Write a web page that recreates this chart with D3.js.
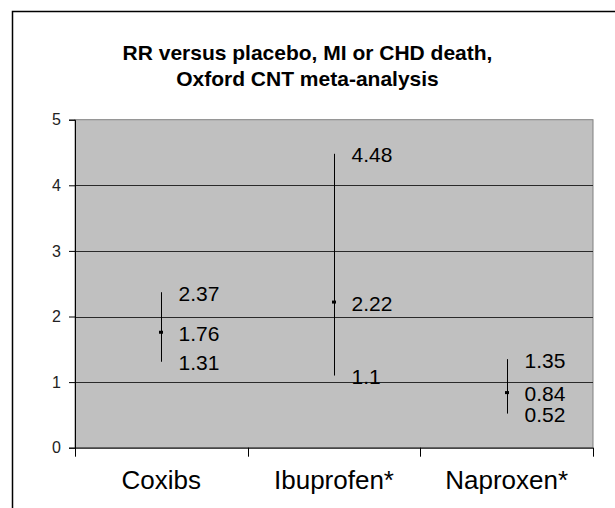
<!DOCTYPE html>
<html>
<head>
<meta charset="utf-8">
<script src="https://cdn.jsdelivr.net/npm/d3@7"></script>
<style>
  html, body { margin: 0; padding: 0; background: #fff; }
  svg { display: block; }
</style>
</head>
<body>
<svg id="chart" width="615" height="508"></svg>
<script>
// Relative risk versus placebo with 95% confidence limits
const categories = ["Coxibs", "Ibuprofen*", "Naproxen*"];
const rrPoint = [1.76, 2.22, 0.84];
const rrUpper = [2.37, 4.48, 1.35];
const rrLower = [1.31, 1.1, 0.52];
const pointLabels = ["1.76", "2.22", "0.84"];
const upperLabels = ["2.37", "4.48", "1.35"];
const lowerLabels = ["1.31", "1.1", "0.52"];
const yTicks = [0, 1, 2, 3, 4, 5];
const titleLines = ["RR versus placebo, MI or CHD death,", "Oxford CNT meta-analysis"];

const svg = d3.select("#chart");
const font = "Liberation Sans, Arial, Helvetica, sans-serif";

const plot = { left: 75, right: 593, top: 119.7, bottom: 447.7 };

const x = d3.scaleBand().domain(categories).range([plot.left, plot.right]).padding(0);
const y = d3.scaleLinear().domain([0, 5]).range([plot.bottom, plot.top]);

// chart frame (left and top edges)
svg.append("path")
  .attr("d", `M12.5,508 V11.5 H615`)
  .attr("fill", "none")
  .attr("stroke", "#000")
  .attr("stroke-width", 1.5);

// title
const title = svg.append("text")
  .attr("text-anchor", "middle")
  .attr("font-family", font)
  .attr("font-weight", "bold")
  .attr("font-size", 21)
  .attr("fill", "#000");
titleLines.forEach((t, i) => {
  title.append("tspan").attr("x", 307.5).attr("y", 60 + i * 26).text(t);
});

// plot area
svg.append("rect")
  .attr("x", plot.left).attr("y", plot.top)
  .attr("width", plot.right - plot.left).attr("height", plot.bottom - plot.top)
  .attr("fill", "#c0c0c0")
  .attr("stroke", "#808080")
  .attr("stroke-width", 1);

// horizontal gridlines
svg.append("g")
  .selectAll("line")
  .data(yTicks.filter(d => d > 0 && d < 5))
  .join("line")
  .attr("x1", plot.left).attr("x2", plot.right)
  .attr("y1", d => Math.round(y(d)) + 0.5).attr("y2", d => Math.round(y(d)) + 0.5)
  .attr("stroke", "#2a2a2a")
  .attr("stroke-width", 1);

// y axis
const yAxis = svg.append("g")
  .attr("transform", `translate(${plot.left},0)`)
  .call(d3.axisLeft(y).tickValues(yTicks).tickSize(6).tickPadding(8).tickFormat(d3.format("d")));
yAxis.select(".domain").attr("stroke", "#000");
yAxis.selectAll(".tick line").attr("stroke", "#000");
yAxis.selectAll("text")
  .attr("font-family", font)
  .attr("font-size", 16)
  .attr("fill", "#222");

// x axis: boundary ticks and centred category labels
const xAxis = svg.append("g");
xAxis.append("line")
  .attr("x1", plot.left).attr("x2", plot.right)
  .attr("y1", plot.bottom + 0.5).attr("y2", plot.bottom + 0.5)
  .attr("stroke", "#000");
const bounds = categories.map(c => x(c)).concat([x(categories[categories.length - 1]) + x.bandwidth()]);
xAxis.selectAll("line.tk")
  .data(bounds)
  .join("line")
  .attr("class", "tk")
  .attr("x1", d => Math.round(d) + 0.5).attr("x2", d => Math.round(d) + 0.5)
  .attr("y1", plot.bottom).attr("y2", plot.bottom + 9)
  .attr("stroke", "#000");
xAxis.selectAll("text")
  .data(categories)
  .join("text")
  .attr("x", d => x(d) + x.bandwidth() / 2)
  .attr("y", 489)
  .attr("text-anchor", "middle")
  .attr("font-family", font)
  .attr("font-size", 26)
  .attr("fill", "#000")
  .text(d => d);

// confidence interval bars and point estimates
const cx = i => Math.round(x(categories[i]) + x.bandwidth() / 2) + 0.5;
const marks = svg.append("g");
categories.forEach((c, i) => {
  marks.append("line")
    .attr("x1", cx(i)).attr("x2", cx(i))
    .attr("y1", y(rrUpper[i])).attr("y2", y(rrLower[i]))
    .attr("stroke", "#000").attr("stroke-width", 1);
  marks.append("rect")
    .attr("x", cx(i) - 2.5).attr("y", y(rrPoint[i]) - 1.5)
    .attr("width", 4).attr("height", 3)
    .attr("fill", "#000");
});

// value labels
const labelRows = [
  { vals: rrUpper, text: upperLabels },
  { vals: rrPoint, text: pointLabels },
  { vals: rrLower, text: lowerLabels }
];
const labels = svg.append("g")
  .attr("font-family", font)
  .attr("font-size", 21)
  .attr("fill", "#000");
labelRows.forEach(row => {
  categories.forEach((c, i) => {
    labels.append("text")
      .attr("x", cx(i) + 17)
      .attr("y", y(row.vals[i]) + 8.5)
      .text(row.text[i]);
  });
});
</script>
</body>
</html>
